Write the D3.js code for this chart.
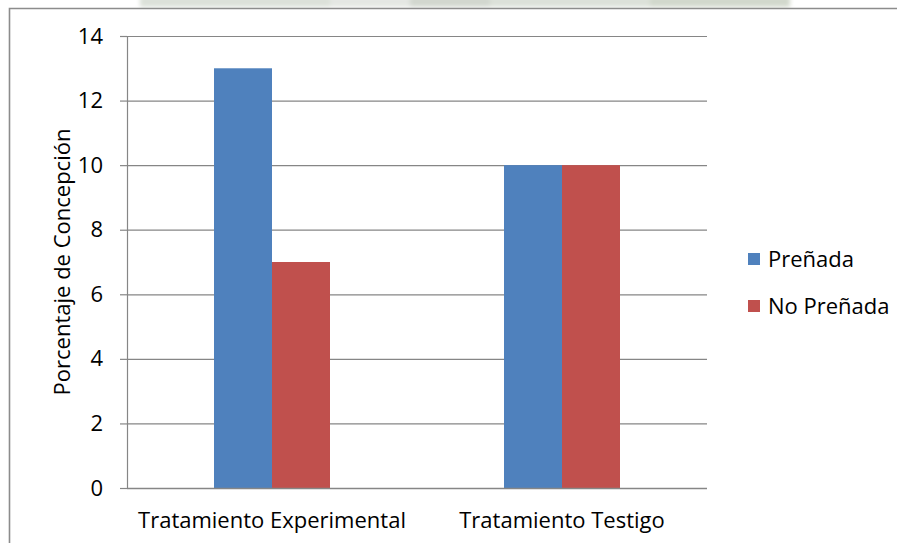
<!DOCTYPE html>
<html>
<head>
<meta charset="utf-8">
<script src="https://cdn.jsdelivr.net/npm/d3@7"></script>
<style>
  html, body { margin: 0; padding: 0; background: #fff; }
  svg { display: block; }
  text { font-family: "Open Sans", Lato, "Liberation Sans", sans-serif; fill: #000; }
</style>
</head>
<body>
<svg id="chart" width="897" height="543"></svg>
<script>
// Data
const categories = ["Tratamiento Experimental", "Tratamiento Testigo"];
const seriesNames = ["Preñada", "No Preñada"];
const preñada = [13, 10];
const noPreñada = [7, 10];
const yTicks = [0, 2, 4, 6, 8, 10, 12, 14];
const yTitle = "Porcentaje de Concepción";
const colors = ["#4F81BD", "#C0504D"];

const svg = d3.select("#chart");
const W = 897, H = 543;
const FONT = 22;

// faint band along the top edge of the page
const defs = svg.append("defs");
defs.append("filter").attr("id", "soft")
  .append("feGaussianBlur").attr("stdDeviation", 2);
const band = svg.append("g").attr("filter", "url(#soft)");
band.append("rect").attr("x", 140).attr("y", -4).attr("width", 650).attr("height", 11).attr("fill", "#dce1d9");
band.append("rect").attr("x", 330).attr("y", -4).attr("width", 80).attr("height", 11).attr("fill", "#e4e7e3");
band.append("rect").attr("x", 410).attr("y", -4).attr("width", 80).attr("height", 11).attr("fill", "#d2d7cf");
band.append("rect").attr("x", 650).attr("y", -4).attr("width", 140).attr("height", 11).attr("fill", "#d1d8cc");

// chart frame
svg.append("path")
  .attr("d", `M9.5,${H} V8.5 H${W}`)
  .attr("fill", "none").attr("stroke", "#8c8c8c").attr("stroke-width", 1.6);

const plot = { left: 127, right: 707, top: 36, bottom: 488 };

const y = d3.scaleLinear().domain([0, 14]).range([plot.bottom, plot.top]);
const x0 = d3.scaleBand().domain(categories)
  .range([plot.left, plot.right]).paddingInner(0.6).paddingOuter(0.3);
const x1 = d3.scaleBand().domain(seriesNames).range([0, x0.bandwidth()]);

const values = [preñada, noPreñada];

// gridlines + y axis ticks
const yAxis = d3.axisLeft(y).tickValues(yTicks).tickSize(7).tickPadding(17);
const gy = svg.append("g").attr("transform", `translate(${plot.left},0)`).call(yAxis);
gy.select(".domain").remove();
gy.selectAll(".tick line").attr("stroke", "#868686").attr("stroke-width", 1.2);
gy.selectAll(".tick text").attr("font-size", FONT)
  .style("font-family", "'Open Sans', Lato, sans-serif");

svg.append("g").selectAll("line")
  .data(yTicks.filter(d => d > 0))
  .join("line")
  .attr("x1", plot.left).attr("x2", plot.right)
  .attr("y1", d => y(d) + 0.5).attr("y2", d => y(d) + 0.5)
  .attr("stroke", "#868686").attr("stroke-width", 1.2);

// bars
categories.forEach((c, ci) => {
  seriesNames.forEach((s, si) => {
    const v = values[si][ci];
    svg.append("rect")
      .attr("x", x0(c) + x1(s))
      .attr("y", y(v))
      .attr("width", x1.bandwidth())
      .attr("height", y(0) - y(v))
      .attr("fill", colors[si]);
  });
});

// axis lines
svg.append("line").attr("x1", plot.left + 0.5).attr("x2", plot.left + 0.5)
  .attr("y1", plot.top).attr("y2", plot.bottom)
  .attr("stroke", "#868686").attr("stroke-width", 1.2);
svg.append("line").attr("x1", plot.left).attr("x2", plot.right)
  .attr("y1", plot.bottom + 0.5).attr("y2", plot.bottom + 0.5)
  .attr("stroke", "#868686").attr("stroke-width", 1.4);

// category labels
svg.append("g").selectAll("text")
  .data(categories)
  .join("text")
  .attr("x", d => x0(d) + x0.bandwidth() / 2)
  .attr("y", 528)
  .attr("text-anchor", "middle")
  .attr("font-size", FONT)
  .text(d => d);

// y axis title
svg.append("text")
  .attr("transform", `translate(70,${(plot.top + plot.bottom) / 2}) rotate(-90)`)
  .attr("text-anchor", "middle")
  .attr("font-size", FONT)
  .text(yTitle);

// legend
const legend = svg.append("g").attr("transform", "translate(748,253)");
seriesNames.forEach((s, i) => {
  const g = legend.append("g").attr("transform", `translate(0,${i * 47})`);
  g.append("rect").attr("width", 12).attr("height", 12).attr("fill", colors[i]);
  g.append("text").attr("x", 20).attr("y", 6).attr("dy", "0.35em")
    .attr("font-size", FONT).text(s);
});
</script>
</body>
</html>
